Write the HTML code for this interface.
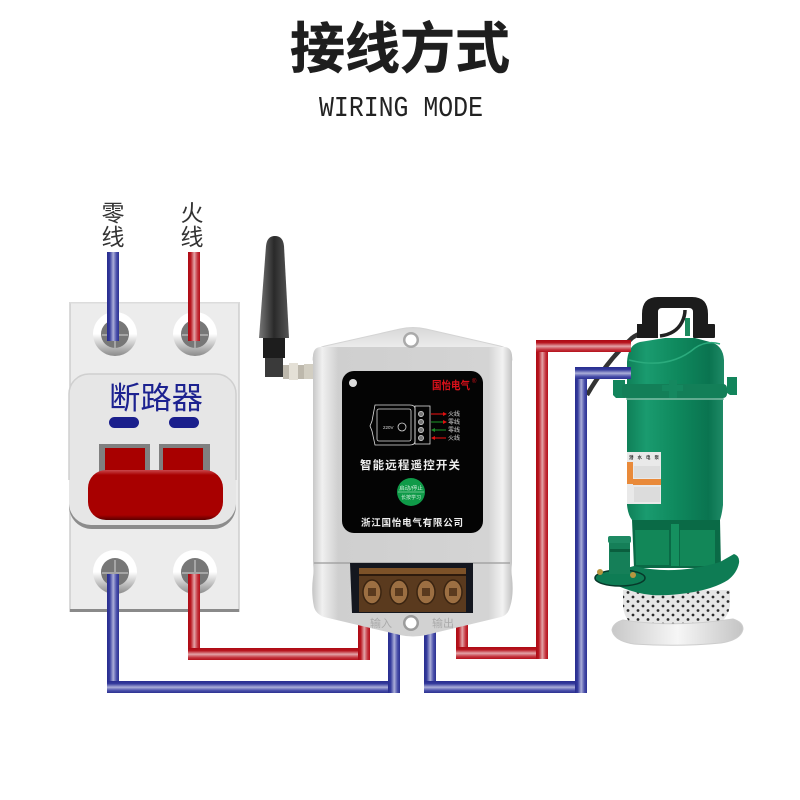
<!DOCTYPE html>
<html><head><meta charset="utf-8"><style>html,body{margin:0;padding:0;background:#fff}svg{display:block}
text{font-family:"Liberation Sans","Noto Sans CJK SC",sans-serif}</style></head><body>
<svg width="800" height="800" viewBox="0 0 800 800" xmlns="http://www.w3.org/2000/svg">
<defs>
<linearGradient id="bv" x1="0" x2="1" y1="0" y2="0"><stop offset="0" stop-color="#272c8e"/><stop offset=".22" stop-color="#343a9c"/><stop offset=".52" stop-color="#aaadd8"/><stop offset=".8" stop-color="#474da8"/><stop offset="1" stop-color="#2c3192"/></linearGradient>
<linearGradient id="bh" x1="0" x2="0" y1="0" y2="1"><stop offset="0" stop-color="#272c8e"/><stop offset=".22" stop-color="#343a9c"/><stop offset=".52" stop-color="#aaadd8"/><stop offset=".8" stop-color="#474da8"/><stop offset="1" stop-color="#2c3192"/></linearGradient>
<linearGradient id="rv" x1="0" x2="1" y1="0" y2="0"><stop offset="0" stop-color="#ad0a14"/><stop offset=".22" stop-color="#b8141e"/><stop offset=".52" stop-color="#e3a2a6"/><stop offset=".8" stop-color="#c4343e"/><stop offset="1" stop-color="#b5101a"/></linearGradient>
<linearGradient id="rh" x1="0" x2="0" y1="0" y2="1"><stop offset="0" stop-color="#ad0a14"/><stop offset=".22" stop-color="#b8141e"/><stop offset=".52" stop-color="#e3a2a6"/><stop offset=".8" stop-color="#c4343e"/><stop offset="1" stop-color="#b5101a"/></linearGradient>
<linearGradient id="scr" x1="0" x2="0" y1="0" y2="1"><stop offset="0" stop-color="#fff"/><stop offset=".5" stop-color="#fff"/><stop offset="1" stop-color="#8b8b8b"/></linearGradient>
<linearGradient id="redb" x1="0" x2="0" y1="0" y2="1"><stop offset="0" stop-color="#c9474c"/><stop offset=".1" stop-color="#a80000"/><stop offset=".9" stop-color="#a80000"/><stop offset="1" stop-color="#5a0000"/></linearGradient>
<linearGradient id="dev" x1="0" x2="1" y1="0" y2="0"><stop offset="0" stop-color="#c4c4c4"/><stop offset=".05" stop-color="#f0f0f0"/><stop offset=".13" stop-color="#cfcfcf"/><stop offset=".88" stop-color="#d4d4d4"/><stop offset=".95" stop-color="#f2f2f2"/><stop offset="1" stop-color="#c0c0c0"/></linearGradient>
<linearGradient id="devtop" x1="0" x2="0" y1="0" y2="1"><stop offset="0" stop-color="#d8d8d8"/><stop offset="1" stop-color="#f8f8f8"/></linearGradient>
<linearGradient id="ant" x1="0" x2="1" y1="0" y2="0"><stop offset="0" stop-color="#777"/><stop offset=".5" stop-color="#2a2a2a"/><stop offset="1" stop-color="#555"/></linearGradient>
<linearGradient id="pump" x1="0" x2="1" y1="0" y2="0"><stop offset="0" stop-color="#0f8058"/><stop offset=".2" stop-color="#1a9b6f"/><stop offset=".5" stop-color="#0f8a5e"/><stop offset=".85" stop-color="#0a7450"/><stop offset="1" stop-color="#1e8a66"/></linearGradient>
<linearGradient id="metal" x1="0" x2="1" y1="0" y2="0"><stop offset="0" stop-color="#c8c8c8"/><stop offset=".5" stop-color="#f6f6f6"/><stop offset="1" stop-color="#c4c4c4"/></linearGradient>
<pattern id="holes" width="10" height="9" patternUnits="userSpaceOnUse"><circle cx="3" cy="3" r="1.4" fill="#2b2b2b"/><circle cx="8" cy="7.5" r="1.4" fill="#2b2b2b"/></pattern>
</defs>
<rect width="800" height="800" fill="#fff"/>

<text x="400" y="68" font-size="55" font-weight="700" fill="#1e1e1e" stroke="#1e1e1e" stroke-width=".6" text-anchor="middle" textLength="220" lengthAdjust="spacingAndGlyphs">接线方式</text>
<text x="319" y="116" font-size="29" fill="#222" textLength="164" lengthAdjust="spacingAndGlyphs" style="font-family:'Liberation Mono',monospace">WIRING MODE</text>

<text x="113" y="221" font-size="23" fill="#333" text-anchor="middle">零</text>
<text x="113" y="245" font-size="23" fill="#333" text-anchor="middle">线</text>
<text x="192" y="221" font-size="23" fill="#333" text-anchor="middle">火</text>
<text x="192" y="245" font-size="23" fill="#333" text-anchor="middle">线</text>

<!-- breaker -->
<rect x="70" y="302" width="169" height="310" fill="#ececec"/>
<path d="M70 302V612M239 302V612" stroke="#cdcdcd" stroke-width="1.5"/>
<rect x="70" y="302" width="169" height="1.5" fill="#dcdcdc"/>
<rect x="70" y="609" width="169" height="3" fill="#8a8a8a"/>
<path d="M69 506V394a20 20 0 0 1 20-20H216a20 20 0 0 1 20 20V506a23 23 0 0 1-23 23H92a23 23 0 0 1-23-23Z" fill="#8c8c8c"/>
<path d="M69 506V394a20 20 0 0 1 20-20H216a20 20 0 0 1 20 20V504a22 22 0 0 1-22 21H91a22 22 0 0 1-22-21Z" fill="#e6e6e6"/>
<path d="M69 480V394a20 20 0 0 1 20-20H216a20 20 0 0 1 20 20V480" fill="none" stroke="#cfcfcf" stroke-width="1.5"/>
<text x="156" y="409" font-size="31" fill="#1c2290" text-anchor="middle" textLength="94" lengthAdjust="spacingAndGlyphs">断路器</text>
<rect x="109" y="417" width="30" height="11" rx="5.5" fill="#1a1f8c"/>
<rect x="169" y="417" width="30" height="11" rx="5.5" fill="#1a1f8c"/>
<rect x="99" y="444" width="51" height="32" fill="#808080"/><rect x="105" y="448" width="40" height="26" fill="#a80000"/>
<rect x="159" y="444" width="51" height="32" fill="#808080"/><rect x="163" y="448" width="40" height="26" fill="#a80000"/>
<rect x="88" y="470" width="135" height="50" rx="18" fill="url(#redb)"/>

<g id="screws">
<circle cx="115" cy="334" r="22" fill="url(#scr)"/><circle cx="115" cy="334" r="14" fill="#777"/><path d="M102 335h26M115 322v26" stroke="#a5a5a5" stroke-width="2"/>
<circle cx="195" cy="334" r="22" fill="url(#scr)"/><circle cx="195" cy="334" r="14" fill="#777"/><path d="M182 335h26M195 322v26" stroke="#a5a5a5" stroke-width="2"/>
<circle cx="115" cy="572" r="22" fill="url(#scr)"/><circle cx="115" cy="572" r="14" fill="#777"/><path d="M102 573h26M115 560v26" stroke="#a5a5a5" stroke-width="2"/>
<circle cx="195" cy="572" r="22" fill="url(#scr)"/><circle cx="195" cy="572" r="14" fill="#777"/><path d="M182 573h26M195 560v26" stroke="#a5a5a5" stroke-width="2"/>
</g>

<!-- wires left -->
<rect x="107" y="252" width="12" height="89" fill="url(#bv)"/>
<rect x="188" y="252" width="12" height="89" fill="url(#rv)"/>
<rect x="107" y="574" width="12" height="119" fill="url(#bv)"/>
<rect x="107" y="681" width="292" height="12" fill="url(#bh)"/>
<rect x="388" y="630" width="12" height="63" fill="url(#bv)"/>
<rect x="188" y="574" width="12" height="85" fill="url(#rv)"/>
<rect x="188" y="648" width="182" height="12" fill="url(#rh)"/>
<rect x="358" y="625" width="12" height="35" fill="url(#rv)"/>
<!-- wires right -->
<rect x="424" y="630" width="12" height="63" fill="url(#bv)"/>
<rect x="424" y="681" width="162" height="12" fill="url(#bh)"/>
<rect x="456" y="625" width="12" height="34" fill="url(#rv)"/>
<rect x="456" y="647" width="92" height="12" fill="url(#rh)"/>

<!-- antenna -->
<path d="M266 246q1-10 9-10q8 0 9 10l5 92H259Z" fill="url(#ant)"/>
<rect x="263" y="338" width="22" height="20" fill="#1d1d1d"/>
<rect x="265" y="358" width="18" height="19" fill="#3a3a3a"/>
<rect x="283" y="365" width="30" height="14" fill="#bdb8ac"/>
<rect x="289" y="363" width="9" height="17" fill="#e4e0d6"/>
<rect x="304" y="364" width="9" height="15" fill="#d2cec2"/>

<!-- device -->
<path d="M313 360q0-11 12-14L400 329q13-3 26 0L500 346q12 3 12 14Z" fill="url(#devtop)" stroke="#d4d4d4"/>
<path d="M313 355q1-8 8-8H504q7 0 8 8V563q-1 8 0 14q2 18-2 30q-2 8-9 10L430 634q-17 5-34 0L324 617q-8-3-10-10q-3-14-1-30q1-6 0-14Z" fill="url(#dev)"/>
<path d="M314 563H510" stroke="#9a9a9a" stroke-width="1.2"/>
<circle cx="411" cy="340" r="8" fill="#aaa"/><circle cx="411" cy="340" r="5.5" fill="#fff"/>
<rect x="342" y="371" width="141" height="162" rx="12" fill="#040404"/>
<circle cx="353" cy="383" r="4" fill="#ddd"/>
<text x="432" y="389" font-size="11" font-weight="700" fill="#d8101a" textLength="38" lengthAdjust="spacingAndGlyphs">国怡电气</text>
<text x="472" y="383" font-size="6" fill="#d8101a">®</text>
<g fill="none" stroke="#ddd" stroke-width=".8">
<path d="M375 405H410q5 0 5 4V441q0 4-5 4H375l-3-14-2-5 2-5Z"/>
<rect x="377" y="409" width="34" height="32" rx="2"/><circle cx="402" cy="427" r="4"/>
<rect x="415" y="406" width="15" height="38"/>
</g>
<g fill="#777" stroke="#ddd" stroke-width=".7"><circle cx="421" cy="414" r="2.6"/><circle cx="421" cy="422" r="2.6"/><circle cx="421" cy="430" r="2.6"/><circle cx="421" cy="438" r="2.6"/></g>
<text x="383" y="429" font-size="4.5" fill="#ddd">220V</text>
<g stroke-width="1.1" fill="none">
<path d="M431 414h13" stroke="#e01010"/><path d="M431 422h13" stroke="#1a8a25"/><path d="M433 430h13" stroke="#1a8a25"/><path d="M433 438h13" stroke="#e01010"/>
</g>
<path d="M447 414l-4-2v4ZM447 422l-4-2v4Z" fill="#e01010"/><path d="M431 430l4-2v4Z" fill="#1a8a25"/><path d="M431 438l4-2v4Z" fill="#e01010"/>
<g font-size="6" fill="#ddd"><text x="448" y="416">火线</text><text x="448" y="424">零线</text><text x="448" y="432">零线</text><text x="448" y="440">火线</text></g>
<text x="410" y="469" font-size="11.5" font-weight="700" fill="#eee" text-anchor="middle" textLength="100" lengthAdjust="spacing">智能远程遥控开关</text>
<circle cx="411" cy="492" r="14" fill="#0f9a48"/>
<path d="M398 492H424" stroke="#c8e8d0" stroke-width=".6"/>
<text x="411" y="490" font-size="5.5" fill="#cfeeda" text-anchor="middle">启动/停止</text>
<text x="411" y="499" font-size="5" fill="#cfeeda" text-anchor="middle">长按学习</text>
<text x="412" y="526" font-size="9.5" font-weight="700" fill="#eee" text-anchor="middle" textLength="102" lengthAdjust="spacing">浙江国怡电气有限公司</text>
<!-- terminal -->
<path d="M350 563H473V613H352Z" fill="#14171f"/>
<rect x="359" y="568" width="107" height="44" fill="#5a3a1e"/>
<rect x="359" y="568" width="107" height="6" fill="#7d5228"/>
<rect x="359" y="574" width="107" height="2" fill="#2d1a0c"/>
<g fill="#9c6f42" stroke="#3a2411" stroke-width="1.5"><ellipse cx="372" cy="592" rx="9" ry="12"/><ellipse cx="399" cy="592" rx="9" ry="12"/><ellipse cx="426" cy="592" rx="9" ry="12"/><ellipse cx="453" cy="592" rx="9" ry="12"/></g>
<g fill="#5a3a1e"><rect x="368" y="588" width="8" height="8"/><rect x="395" y="588" width="8" height="8"/><rect x="422" y="588" width="8" height="8"/><rect x="449" y="588" width="8" height="8"/></g>
<g fill="#aaa" font-size="11" text-anchor="middle"><text x="381" y="627">输入</text><text x="443" y="627">输出</text></g>
<circle cx="411" cy="623" r="8" fill="#9c9c9c"/><circle cx="411" cy="623" r="5.5" fill="#fff"/>

<!-- cable -->
<path d="M587 395Q606 362 632 338Q640 332 650 332" fill="none" stroke="#333" stroke-width="4.5"/>

<!-- pump handle -->
<path d="M642 330V314q0-17 16-17H692q16 0 16 17V330H693V312q0-4-4-4H662q-4 0-4 4V330Z" fill="#1c1c1c"/>
<path d="M660 336q16-2 22-14q3-6 3-12" fill="none" stroke="#222" stroke-width="3.5"/>
<path d="M685 336V318h5v18Z" fill="#1d8a5e"/>
<rect x="637" y="324" width="21" height="14" fill="#1c1c1c"/>
<rect x="693" y="324" width="22" height="14" rx="1" fill="#1c1c1c"/>
<!-- pump body -->
<path d="M627 362q1-17 13-20l25-4H695l15 4q13 3 14 18V385H627Z" fill="url(#pump)"/>
<path d="M629 360q40 10 66-12q12-8 25-4" fill="none" stroke="#2bab7d" stroke-width="1.5"/>
<path d="M613 380h12v18h-9l-3-3ZM727 377h10v18h-7l-3-2Z" fill="#13855c"/>
<rect x="622" y="384" width="105" height="14" rx="4" fill="#137f58"/>
<path d="M662 385h7v-5h8v5h6v6h-6v12h-8V391h-7Z" fill="#15885f"/>
<path d="M627 398H723V505q-1 9-3 15H632q-4-5-5-15Z" fill="url(#pump)"/>
<path d="M626 399H724" stroke="#7ebba4" stroke-width="1.5"/>
<rect x="627" y="452" width="34" height="52" fill="#e9e9e9"/>
<text x="629" y="459" font-size="4.5" fill="#333" textLength="30" font-weight="700">潜水电泵</text>
<path d="M627 462h6v22h-6ZM633 479h28v6H633Z" fill="#e98a3a"/>
<rect x="634" y="466" width="26" height="12" fill="#ddd"/>
<rect x="634" y="487" width="26" height="15" fill="#dcdcdc"/>
<path d="M632 520H720L721 568H634Z" fill="#0a6a46"/>
<path d="M635 530H669V565H636ZM680 530H715V566H680Z" fill="#128758"/>
<rect x="671" y="524" width="8" height="42" fill="#15905f"/>
<!-- strainer and base -->
<path d="M623 590H730V606q-2 12-12 18H632q-8-6-9-18Z" fill="#e6e6e6"/>
<path d="M623 590H730V606q-2 12-12 18H632q-8-6-9-18Z" fill="url(#holes)"/>
<path d="M612 630q1-7 11-10q50 8 110 -1q10 3 10 10q-2 11-22 14q-42 4-87 1q-20-3-22-14Z" fill="url(#metal)" stroke="#cdcdcd"/>
<!-- flange -->
<path d="M634 566q40 10 86-4l14-8q6 2 5 9q-2 10-11 17q-14 9-40 13q-22 3-36 2q-20-2-38-11q-8-4-16-8Z" fill="#0e7c54"/>
<ellipse cx="620" cy="578" rx="25" ry="8" fill="#0e7c54" stroke="#07382a" stroke-width="1.5"/>
<rect x="609" y="540" width="21" height="34" fill="#157f58"/><rect x="608" y="536" width="23" height="7" rx="2" fill="#1e8a63"/><rect x="610" y="549" width="20" height="3" fill="#0a5e3e"/>
<circle cx="600" cy="572" r="3" fill="#b7963f"/><circle cx="633" cy="575" r="3" fill="#b7963f"/>

<!-- pump wires, drawn over -->
<rect x="536" y="340" width="12" height="319" fill="url(#rv)"/>
<rect x="536" y="340" width="95" height="12" fill="url(#rh)"/>
<rect x="575" y="367" width="12" height="326" fill="url(#bv)"/>
<rect x="575" y="367" width="56" height="12" fill="url(#bh)"/>
</svg>
</body></html>
